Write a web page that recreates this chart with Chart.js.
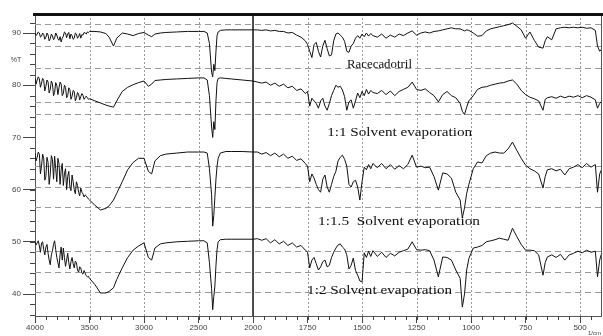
<!DOCTYPE html>
<html><head><meta charset="utf-8">
<script src="https://cdn.jsdelivr.net/npm/chart.js@4.4.1/dist/chart.umd.min.js"></script>
<style>html,body{margin:0;padding:0;background:#fff;}#wrap{width:603px;height:336px;}</style>
</head><body><div id="wrap"><canvas id="c" width="603" height="336"></canvas></div>
<script>
// wavenumbers (1/cm)
const wavenumbers = [
 4000,3990,3980,3970,3960,3950,3940,3930,3920,3910,3900,3890,3880,3870,3860,3850,3840,3830,3820,3810,
 3800,3790,3780,3770,3760,3750,3740,3730,3720,3710,3700,3690,3680,3670,3660,3650,3640,3630,3620,3610,
 3600,3590,3580,3570,3560,3550,3540,3530,3520,3510,3500,
 3450,3400,3350,3320,3280,3250,3200,3150,3100,3050,3000,2960,2930,2900,2850,2800,2700,2600,2500,2450,2420,2400,2380,2370,2360,2350,2340,2330,2320,2300,2250,2200,2100,2000,
 1980,1960,1940,1920,1900,1880,1860,1840,1820,1800,1780,1760,1750,
 1740,1730,1720,1710,1700,1690,1680,1670,1660,1650,1640,1630,1620,1610,1600,1590,1580,1570,1560,1550,1540,1530,1520,1510,1500,1490,1480,1470,1460,1450,
 1430,1410,1390,1370,1350,1330,1310,1290,1270,1250,1230,1210,1190,1170,1150,1130,1110,1090,1070,1050,1040,1030,1020,1010,990,970,950,930,910,890,870,850,830,810,790,770,750,730,710,690,670,660,650,630,610,590,570,550,530,510,490,470,450,430,420,410,400
];
// %T, Racecadotril
const racecadotril = [
 90.0,89.5,89.8,90.2,90.0,89.2,89.4,90.0,89.7,88.8,89.2,90.0,89.6,88.5,88.9,89.8,89.5,88.7,89.0,90.0,
 89.6,88.9,88.6,89.3,88.3,89.0,89.4,90.2,90.0,89.1,89.8,90.1,88.9,89.8,89.5,88.8,89.0,90.0,89.8,89.0,
 89.3,89.9,89.0,89.7,89.6,90.1,90.0,89.8,90.2,90.1,90.3,
 90.3,90.2,89.9,89.2,87.5,89.0,90.0,89.8,89.5,89.9,90.1,89.6,89.3,89.8,90.0,90.1,90.2,90.3,90.3,90.3,90.0,88.0,82.5,81.6,84.0,82.8,86.5,89.5,90.2,90.5,90.6,90.6,90.6,90.6,
 90.6,90.5,90.6,90.4,90.5,90.3,90.3,90.0,90.1,89.6,89.2,88.5,87.8,
 86.5,85.3,87.8,88.2,86.5,85.4,87.5,88.6,87.0,85.6,85.8,88.5,89.8,90.0,89.6,89.2,88.4,86.5,86.3,87.5,88.0,89.0,89.5,89.0,89.8,89.3,90.0,89.4,89.9,89.5,
 89.2,89.8,89.0,89.6,89.2,89.8,89.5,90.0,90.4,89.6,90.0,90.2,90.0,90.3,90.4,90.6,90.8,91.0,90.8,90.8,90.6,90.4,90.6,90.5,90.0,89.4,89.5,90.4,90.8,91.0,91.2,91.4,91.6,91.9,91.3,90.6,89.0,90.2,88.6,87.3,87.1,88.5,89.3,88.7,90.8,91.0,91.1,91.0,91.1,91.0,91.1,90.9,91.0,90.5,87.5,86.5,87.0
];
// %T, 1:1 solvent evaporation
const solvent11 = [
 81.4,80.2,81.0,81.6,81.2,79.6,80.4,81.3,80.9,78.9,79.8,81.0,80.6,78.5,79.2,80.8,80.3,78.0,78.6,80.5,
 80.0,78.2,79.5,80.6,80.2,78.0,78.4,80.0,79.6,77.6,78.0,79.5,79.2,77.3,77.9,79.0,78.8,77.0,77.6,78.6,
 78.3,77.2,77.8,78.4,78.1,77.3,77.6,77.9,77.6,77.3,77.4,
 77.0,76.6,76.2,76.0,75.8,77.0,78.8,79.6,80.1,80.5,80.8,79.8,80.2,80.9,81.0,81.1,81.2,81.3,81.4,81.4,81.0,78.0,72.0,70.0,73.0,71.5,77.0,80.5,81.3,81.4,81.3,81.2,81.0,80.8,
 80.6,80.4,80.6,80.0,80.4,79.8,80.2,79.5,79.8,79.0,79.3,78.4,78.8,
 76.0,77.5,77.0,76.5,75.6,77.0,77.5,76.0,75.2,76.5,78.0,79.0,80.0,79.6,79.8,79.1,77.8,75.2,76.8,77.2,75.6,77.0,78.5,77.6,78.8,78.0,79.2,78.3,79.0,78.6,
 78.4,79.0,78.2,78.9,78.0,78.8,79.2,79.6,80.6,79.2,79.0,79.3,78.6,78.0,76.8,78.2,78.8,78.0,77.6,76.5,75.0,74.4,75.8,77.0,78.0,79.2,79.6,79.7,80.0,80.2,80.4,80.5,80.8,81.0,80.2,79.0,78.2,77.7,77.4,77.0,75.2,77.3,77.6,77.8,77.5,77.9,77.6,77.9,77.7,78.0,77.6,78.0,77.7,77.2,75.6,76.5,77.0
];
// %T, 1:1.5 solvent evaporation
const solvent115 = [
 67.0,65.5,66.2,67.2,66.8,63.0,64.5,66.8,66.0,61.8,62.5,66.2,65.2,61.0,63.0,66.5,65.8,62.0,66.4,64.0,
 61.5,66.0,65.0,61.0,63.8,65.0,60.8,63.0,64.0,60.0,62.5,63.5,60.5,59.8,62.8,61.5,60.0,59.2,61.5,60.8,
 59.5,58.8,60.3,59.5,59.2,58.6,59.0,58.8,58.5,58.2,58.0,
 57.0,56.1,56.4,56.9,58.0,59.3,61.5,63.8,65.2,66.0,66.0,63.5,63.0,65.5,66.5,66.8,67.0,67.2,67.2,67.2,67.0,64.0,59.0,53.0,55.0,58.5,62.0,64.5,66.0,67.0,67.3,67.3,67.3,67.2,
 67.2,66.8,67.1,66.5,67.0,66.3,66.8,66.0,66.4,65.6,65.9,65.0,64.5,
 61.5,63.0,62.2,61.0,60.0,59.5,62.0,62.8,60.5,59.5,61.0,62.5,63.5,65.5,66.2,66.6,65.8,64.5,61.0,60.5,61.5,61.8,60.5,58.0,61.5,64.3,63.8,64.8,64.0,65.0,
 64.2,65.0,64.0,64.8,63.9,64.6,64.0,64.8,66.6,64.3,64.5,64.2,64.3,62.5,59.9,63.2,63.0,62.2,59.5,58.0,54.6,56.5,59.3,61.0,64.0,65.3,65.1,66.5,67.0,67.2,67.0,67.0,67.8,69.1,67.5,66.0,64.7,64.0,63.6,63.0,60.3,62.5,63.8,64.0,63.6,63.9,62.8,64.0,64.3,64.8,64.2,65.0,64.3,64.8,59.5,63.0,64.0
];
// %T, 1:2 solvent evaporation
const solvent12 = [
 50.0,49.4,49.8,50.2,49.2,48.0,49.8,50.0,48.5,47.5,49.0,49.5,47.8,46.5,45.6,47.5,48.3,49.5,50.2,48.5,
 47.0,46.0,45.0,47.5,49.0,46.5,48.8,47.0,45.3,46.5,47.8,46.0,44.8,46.2,47.0,45.8,45.0,46.3,46.0,44.6,
 44.2,45.2,45.0,44.0,43.8,44.5,44.0,43.5,43.3,43.4,43.0,
 41.8,40.2,40.2,40.5,41.2,42.8,45.0,47.0,48.4,49.2,49.8,47.0,46.5,48.8,49.6,49.8,50.0,50.1,50.2,50.2,49.8,46.0,41.0,37.0,39.5,41.5,45.5,48.5,50.0,50.4,50.5,50.5,50.5,50.5,
 50.6,50.3,50.6,49.8,50.4,49.6,50.1,49.3,49.8,49.0,49.3,48.4,48.0,
 45.0,46.5,47.0,45.8,44.6,45.2,46.2,46.5,45.2,45.5,47.0,48.0,48.8,49.4,49.6,49.0,48.6,47.5,44.8,45.5,46.9,44.5,43.6,42.5,42.3,47.9,47.0,48.2,47.2,48.3,
 47.2,48.0,47.0,47.8,47.3,48.0,48.3,48.6,50.0,48.5,48.4,48.5,48.3,46.5,43.3,47.1,47.0,46.5,44.6,43.0,37.5,40.0,44.6,46.8,48.8,49.0,49.3,50.0,50.2,50.4,50.7,50.5,50.3,52.6,51.0,49.5,48.4,48.4,48.3,47.5,43.6,46.0,47.1,47.5,47.0,47.6,46.5,47.5,47.8,48.2,47.9,48.4,48.0,48.2,43.3,46.5,48.0
];
const seriesNames = ['Racecadotril', '1:1 Solvent evaporation', '1:1.5  Solvent evaporation', '1:2 Solvent evaporation'];
const xTickLabels = [4000, 3500, 3000, 2500, 2000, 1750, 1500, 1250, 1000, 750, 500];
const yTickLabels = [40, 50, 60, 70, 80, 90];
const yGridValues = [91.72, 87.51, 83.29, 76.78, 74.48, 64.52, 60.49, 56.66, 48.23, 44.21, 40.38];
const xMinWn = 4000, xMaxWn = 404, yMin = 35.79, yMax = 93.64;

// axis scale change at 2000 1/cm (expanded x2 below 2000)
function pos(w) { return w >= 2000 ? (4000 - w) / 2 : 1000 + (2000 - w); }
function wn(p) { return p <= 1000 ? 4000 - 2 * p : 2000 - (p - 1000); }

const series = [racecadotril, solvent11, solvent115, solvent12];
const datasets = series.map((vals, i) => ({
  label: seriesNames[i],
  data: wavenumbers.map((w, j) => ({ x: pos(w), y: vals[j] })),
  borderColor: '#111', borderWidth: 1, pointRadius: 0, tension: 0, fill: false
}));

// label placement: text spans from wStart to wEnd at %T level y
const labels = [
  { text: seriesNames[0], wStart: 1569, wEnd: 1271, y: 83.9 },
  { text: seriesNames[1], wStart: 1660, wEnd: 995, y: 71.0 },
  { text: seriesNames[2], wStart: 1702, wEnd: 959, y: 53.8 },
  { text: seriesNames[3], wStart: 1752, wEnd: 1087, y: 40.6 }
];

const decor = {
  id: 'decor',
  beforeDatasetsDraw(chart) {
    const { ctx, chartArea: a, scales: { x, y } } = chart;
    ctx.save();
    ctx.lineWidth = 1;
    ctx.strokeStyle = '#9a9a9a';
    ctx.setLineDash([6, 4]);
    yGridValues.forEach(v => {
      const py = Math.round(y.getPixelForValue(v)) + 0.5;
      ctx.beginPath(); ctx.moveTo(a.left, py); ctx.lineTo(a.right, py); ctx.stroke();
    });
    ctx.setLineDash([2, 2]);
    xTickLabels.forEach(w => {
      if (w === 4000 || w === 2000) return;
      const px = Math.round(x.getPixelForValue(pos(w))) + 0.5;
      ctx.beginPath(); ctx.moveTo(px, a.top); ctx.lineTo(px, a.bottom); ctx.stroke();
    });
    ctx.setLineDash([]);
    ctx.strokeStyle = '#111';
    ctx.lineWidth = 1.5;
    const p2 = x.getPixelForValue(pos(2000));
    ctx.beginPath(); ctx.moveTo(p2, a.top); ctx.lineTo(p2, a.bottom); ctx.stroke();
    ctx.restore();
  },
  afterDraw(chart) {
    const { ctx, chartArea: a, scales: { x, y } } = chart;
    ctx.save();
    ctx.strokeStyle = '#555'; ctx.lineWidth = 1;
    ctx.beginPath(); ctx.moveTo(a.right + 0.5, a.top); ctx.lineTo(a.right + 0.5, a.bottom); ctx.stroke();
    ctx.strokeStyle = '#111'; ctx.lineWidth = 3;
    ctx.beginPath(); ctx.moveTo(a.left - 2, a.top + 0.5); ctx.lineTo(chart.width, a.top + 0.5); ctx.stroke();
    ctx.strokeStyle = '#444'; ctx.lineWidth = 1;
    for (let v = 36; v <= 92; v += 2) {
      const py = Math.round(y.getPixelForValue(v)) + 0.5;
      ctx.beginPath(); ctx.moveTo(a.left - 5, py); ctx.lineTo(a.left, py); ctx.stroke();
    }
    for (let p = 0; p <= pos(xMaxWn); p += 50) {
      const px = Math.round(x.getPixelForValue(p)) + 0.5;
      ctx.beginPath(); ctx.moveTo(px, a.bottom); ctx.lineTo(px, a.bottom + 4); ctx.stroke();
    }
    ctx.fillStyle = '#111';
    ctx.textBaseline = 'middle';
    ctx.font = '13px "Liberation Serif", "Times New Roman", serif';
    labels.forEach(l => {
      const x0 = x.getPixelForValue(pos(l.wStart));
      const x1 = x.getPixelForValue(pos(l.wEnd));
      const w = ctx.measureText(l.text).width;
      ctx.save();
      ctx.translate(x0, y.getPixelForValue(l.y));
      ctx.scale((x1 - x0) / w, 1);
      ctx.fillText(l.text, 0, 0);
      ctx.restore();
    });
    ctx.fillStyle = '#444';
    ctx.font = '7px "Liberation Sans", Arial, sans-serif';
    ctx.textAlign = 'center';
    ctx.fillText('%T', 16, y.getPixelForValue(84.8));
    ctx.font = '6px "Liberation Sans", Arial, sans-serif';
    ctx.textAlign = 'left';
    ctx.fillText('1/cm', 588, 333);
    ctx.restore();
  }
};

new Chart(document.getElementById('c'), {
  type: 'line',
  data: { datasets },
  options: {
    responsive: false, animation: false, devicePixelRatio: 1,
    layout: { padding: { top: 14, right: 2, left: 0, bottom: 0 } },
    plugins: { legend: { display: false }, tooltip: { enabled: false } },
    scales: {
      x: {
        type: 'linear', min: pos(xMinWn), max: pos(xMaxWn),
        afterBuildTicks: s => { s.ticks = xTickLabels.map(w => ({ value: pos(w) })); },
        afterFit: s => { s.height = 20; },
        ticks: { callback: v => String(wn(v)), autoSkip: false, maxRotation: 0, color: '#444', padding: 0,
                 font: { family: '"Liberation Sans", Arial, sans-serif', size: 8 } },
        grid: { drawOnChartArea: false, tickLength: 7, color: '#444' },
        border: { color: '#555' }
      },
      y: {
        type: 'linear', min: yMin, max: yMax,
        afterBuildTicks: s => { s.ticks = yTickLabels.map(v => ({ value: v })); },
        afterFit: s => { s.width = 35; },
        ticks: { callback: v => String(v), color: '#444', padding: 2,
                 font: { family: '"Liberation Sans", Arial, sans-serif', size: 8 } },
        grid: { drawOnChartArea: false, tickLength: 12, color: '#444' },
        border: { color: '#555' }
      }
    }
  },
  plugins: [decor]
});
</script></body></html>
